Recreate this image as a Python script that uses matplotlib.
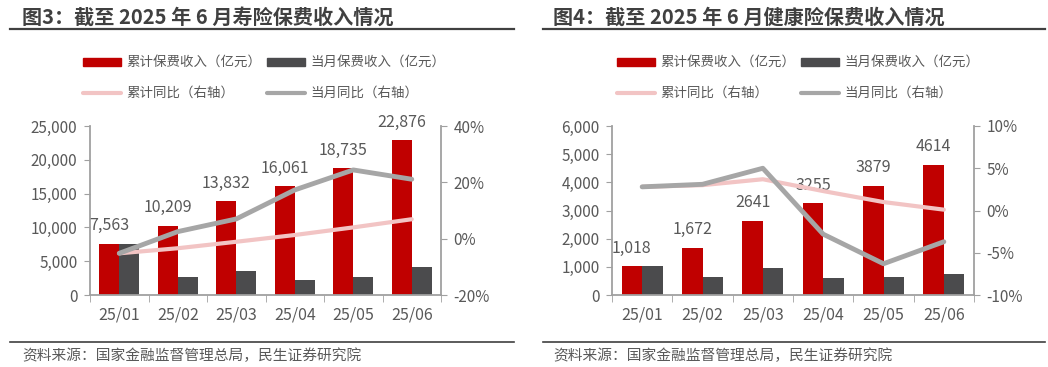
import matplotlib
matplotlib.use("Agg")
import matplotlib.pyplot as plt
from matplotlib.lines import Line2D
from matplotlib.patches import Rectangle
import numpy as np

plt.rcParams['font.family'] = ['Noto Sans CJK SC', 'DejaVu Sans']

months = ["25/01", "25/02", "25/03", "25/04", "25/05", "25/06"]

# Life insurance
life_cum = [7563, 10209, 13832, 16061, 18735, 22876]
life_month = [7563, 2646, 3623, 2229, 2674, 4141]
life_cum_yoy = [-5.2, -3.4, -1.1, 1.3, 4.0, 6.9]
life_month_yoy = [-5.2, 2.5, 7.0, 17.3, 24.4, 21.1]
life_labels = ["7,563", "10,209", "13,832", "16,061", "18,735", "22,876"]

# Health insurance
health_cum = [1018, 1672, 2641, 3255, 3879, 4614]
health_month = [1018, 654, 969, 614, 624, 735]
health_cum_yoy = [2.8, 3.0, 3.7, 2.3, 1.0, 0.1]
health_month_yoy = [2.8, 3.1, 5.0, -2.8, -6.3, -3.7]
health_labels = ["1,018", "1,672", "2641", "3255", "3879", "4614"]

titles = ["图3：截至 2025 年 6 月寿险保费收入情况", "图4：截至 2025 年 6 月健康险保费收入情况"]
legend_labels = ["累计保费收入（亿元）", "当月保费收入（亿元）", "累计同比（右轴）", "当月同比（右轴）"]
source = "资料来源：国家金融监督管理总局，民生证券研究院"

RED = "#C00000"
DARK = "#4B4B4D"
GRAY_LINE = "#A6A6A6"
PINK = "#F2C4C4"
TXT = "#595959"
SPINE = "#A0A0A0"

W, H = 1048, 367
fig = plt.figure(figsize=(W / 100, H / 100), dpi=100)

def fx(px):
    return px / W

def fy(py):
    return 1 - py / H

panels = [
    dict(x0=10, x1=514, tx=22, ax_l=90, ax_r=441, lg=83,
         cum=life_cum, mon=life_month, cy=life_cum_yoy, my=life_month_yoy, labels=life_labels,
         ylim=(0, 25000), yticks=[0, 5000, 10000, 15000, 20000, 25000],
         y2lim=(-20, 40), y2ticks=[-20, 0, 20, 40]),
    dict(x0=543, x1=1045, tx=553, ax_l=612, ax_r=974, lg=617,
         cum=health_cum, mon=health_month, cy=health_cum_yoy, my=health_month_yoy, labels=health_labels,
         ylim=(0, 6000), yticks=[0, 1000, 2000, 3000, 4000, 5000, 6000],
         y2lim=(-10, 10), y2ticks=[-10, -5, 0, 5, 10]),
]

top_px, bot_px = 126, 295

for i, p in enumerate(panels):
    # title
    fig.text(fx(p['tx']), fy(17), titles[i], fontsize=14.5, fontweight='bold',
             color="#404040", ha='left', va='center')
    fig.add_artist(Line2D([fx(p['x0']), fx(p['x1'])], [fy(29), fy(29)], color="#404040", lw=1.6))
    # source
    fig.add_artist(Line2D([fx(p['x0']), fx(p['x1'])], [fy(342), fy(342)], color="#404040", lw=1.2))
    fig.text(fx(p['tx']), fy(356), source, fontsize=10.6, color=TXT, ha='left', va='center')

    # legend
    lx = p['lg']
    for j, (row_y) in enumerate([62, 62, 93, 93]):
        bx = lx if j % 2 == 0 else lx + 184
        if j == 0 or j == 1:
            col = RED if j == 0 else DARK
            fig.add_artist(Rectangle((fx(bx), fy(row_y + 4)), fx(38), 8 / H, color=col,
                                     transform=fig.transFigure))
        else:
            col = PINK if j == 2 else GRAY_LINE
            fig.add_artist(Line2D([fx(bx), fx(bx + 38)], [fy(row_y), fy(row_y)], color=col,
                                  lw=3, solid_capstyle='round'))
        fig.text(fx(bx + 43), fy(row_y), legend_labels[j], fontsize=9.7, color=TXT,
                 ha='left', va='center')

    ax = fig.add_axes([fx(p['ax_l']), fy(bot_px), fx(p['ax_r'] - p['ax_l']), (bot_px - top_px) / H])
    x = np.arange(len(months))
    bw = 0.34
    ax.bar(x - bw / 2, p['cum'], width=bw, color=RED, zorder=2)
    ax.bar(x + bw / 2, p['mon'], width=bw, color=DARK, zorder=2)
    for xi, v, lab in zip(x, p['cum'], p['labels']):
        ax.annotate(lab, (xi - bw / 2, v), xytext=(0, 7), textcoords='offset points',
                    ha='center', va='bottom', fontsize=11.5, color=TXT)
    ax.set_xlim(-0.5, len(months) - 0.5)
    ax.set_ylim(*p['ylim'])
    ax.set_yticks(p['yticks'])
    ax.set_yticklabels([f"{t:,}" for t in p['yticks']])
    ax.set_xticks(x)
    ax.set_xticklabels(months)
    ax.set_xticks(np.arange(-0.5, len(months)), minor=True)
    ax.tick_params(axis='x', which='major', length=0, pad=8, labelsize=11.5, labelcolor=TXT)
    ax.tick_params(axis='x', which='minor', length=5, color=SPINE, direction='out')
    ax.tick_params(axis='y', length=4, color=SPINE, labelsize=11, labelcolor=TXT, pad=5)
    for s in ['top', 'right']:
        ax.spines[s].set_visible(False)
    for s in ['left', 'bottom']:
        ax.spines[s].set_color(SPINE)
        ax.spines[s].set_linewidth(1.3)

    ax2 = ax.twinx()
    ax2.plot(x, p['cy'], color=PINK, lw=3, solid_capstyle='round', zorder=3)
    ax2.plot(x, p['my'], color=GRAY_LINE, lw=3.5, solid_capstyle='round', zorder=4)
    ax2.set_ylim(*p['y2lim'])
    ax2.set_yticks(p['y2ticks'])
    ax2.set_yticklabels([f"{t}%" for t in p['y2ticks']])
    ax2.tick_params(axis='y', length=4, color=SPINE, labelsize=11, labelcolor=TXT, pad=5)
    for s in ['top', 'left', 'bottom']:
        ax2.spines[s].set_visible(False)
    ax2.spines['right'].set_color(SPINE)
    ax2.spines['right'].set_linewidth(1.3)

fig.savefig("out.png", dpi=100)
